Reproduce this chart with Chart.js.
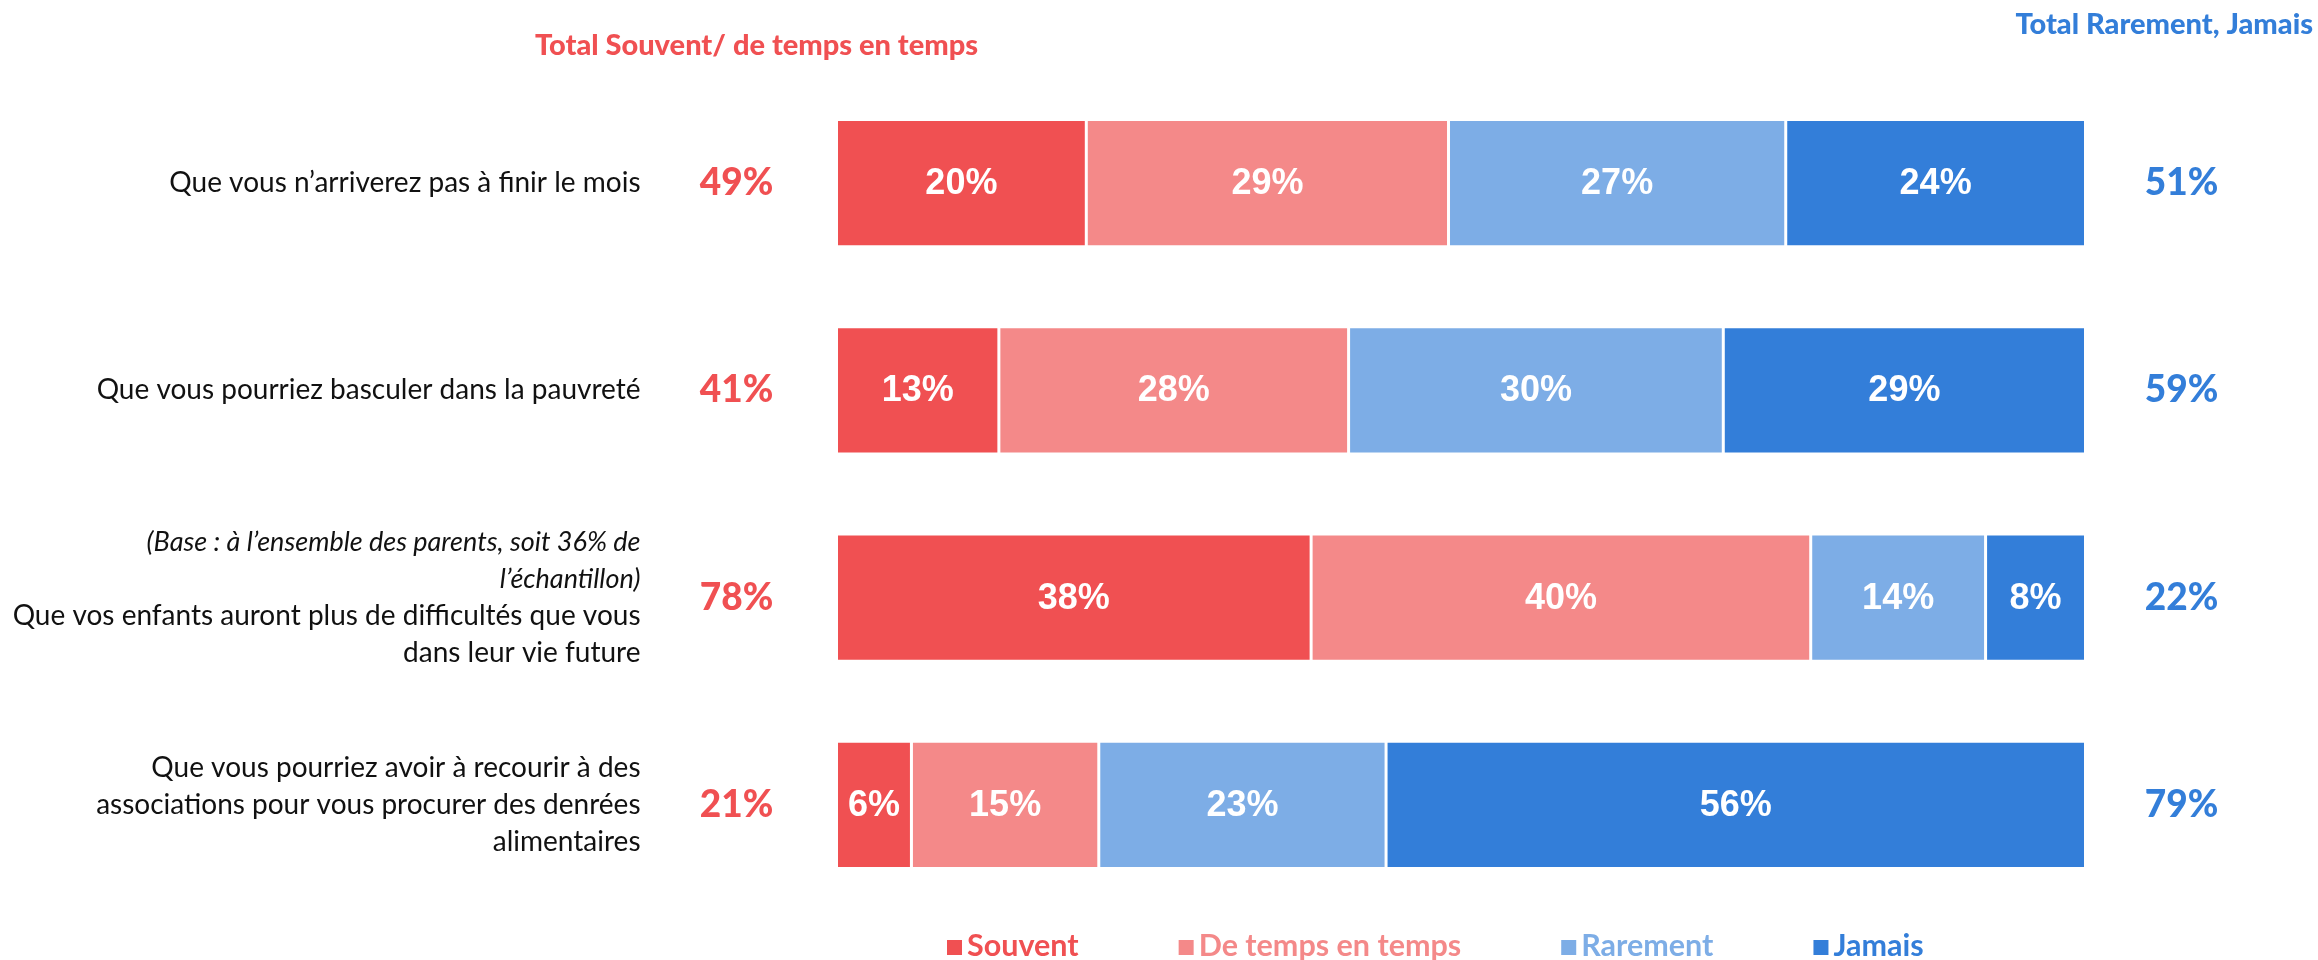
<!DOCTYPE html>
<html>
<head>
<meta charset="utf-8">
<script src="https://cdn.jsdelivr.net/npm/chart.js@4.4.0/dist/chart.umd.min.js"></script>
<style>
  html, body { margin: 0; padding: 0; background: #fff; }
  #wrap { width: 2318px; height: 960px; }
</style>
</head>
<body>
<div id="wrap"><canvas id="chart" width="2318" height="960"></canvas></div>
<script>
// Data
const categories = [
    ['Que vous n’arriverez pas à finir le mois'],
    ['Que vous pourriez basculer dans la pauvreté'],
    ['Que vos enfants auront plus de difficultés que vous', 'dans leur vie future'],
    ['Que vous pourriez avoir à recourir à des', 'associations pour vous procurer des denrées', 'alimentaires']
];
const notes = [
    [],
    [],
    ['(Base : à l’ensemble des parents, soit 36% de', 'l’échantillon)'],
    []
];
const seriesNames = ['Souvent', 'De temps en temps', 'Rarement', 'Jamais'];
const souvent = [20, 13, 38, 6];
const deTempsEnTemps = [29, 28, 40, 15];
const rarement = [27, 30, 14, 23];
const jamais = [24, 29, 8, 56];
const totalSouvent = [49, 41, 78, 21];
const totalRarement = [51, 59, 22, 79];

const RED = '#F05052';
const PINK = '#F48989';
const LIGHTBLUE = '#7DADE6';
const BLUE = '#337ED9';
const colors = [RED, PINK, LIGHTBLUE, BLUE];

const datasets = [souvent, deTempsEnTemps, rarement, jamais].map((values, i) => ({
    label: seriesNames[i],
    data: values,
    backgroundColor: colors[i],
    borderColor: '#ffffff',
    borderWidth: 1.5,
    borderSkipped: false,
    barPercentage: 0.615,
    categoryPercentage: 1
}));

// Texts around the bars: labels, totals, headers, legend
const textPlugin = {
    id: 'texts',
    afterDatasetsDraw(chart) {
        const { ctx } = chart;
        ctx.save();
        ctx.fillStyle = '#ffffff';
        ctx.font = 'bold 36px "Liberation Sans", Arial, sans-serif';
        ctx.textAlign = 'center';
        ctx.textBaseline = 'middle';
        chart.data.datasets.forEach((ds, i) => {
            const meta = chart.getDatasetMeta(i);
            meta.data.forEach((bar, j) => {
                const cx = (bar.x + bar.base) / 2;
                ctx.fillText(ds.data[j] + '%', cx, bar.y + 1);
            });
        });
        ctx.restore();
    },
    afterDraw(chart) {
        const { ctx, chartArea } = chart;
        const yScale = chart.scales.y;
        const lineH = 37;
        ctx.save();
        ctx.textBaseline = 'middle';

        categories.forEach((lines, i) => {
            const y = yScale.getPixelForValue(i);
            const all = notes[i].map(t => ({ t, italic: true })).concat(lines.map(t => ({ t, italic: false })));
            const y0 = y - (all.length - 1) * lineH / 2;
            ctx.textAlign = 'right';
            ctx.fillStyle = '#111111';
            all.forEach((ln, k) => {
                ctx.font = ln.italic ? 'italic 27px Lato, sans-serif' : '28px Lato, sans-serif';
                ctx.fillText(ln.t, chartArea.left - 196, y0 + k * lineH);
            });

            ctx.textAlign = 'center';
            ctx.font = '900 37px Lato, sans-serif';
            ctx.fillStyle = RED;
            ctx.fillText(totalSouvent[i] + '%', chartArea.left - 100, y);
            ctx.fillStyle = BLUE;
            ctx.fillText(totalRarement[i] + '%', chartArea.right + 96, y);
        });

        // headers
        ctx.font = '900 29px Lato, sans-serif';
        ctx.textAlign = 'center';
        ctx.fillStyle = RED;
        ctx.fillText('Total Souvent/ de temps en temps', chartArea.left - 80, 46);
        ctx.textAlign = 'right';
        ctx.fillStyle = BLUE;
        ctx.fillText('Total Rarement, Jamais', chart.width - 5, 25);

        // legend
        ctx.font = 'bold 30.5px Lato, sans-serif';
        ctx.textAlign = 'left';
        const legendY = chartArea.bottom + 38;
        const box = 15;
        const gap = 100;
        let x = 947;
        seriesNames.forEach((name, i) => {
            ctx.fillStyle = colors[i];
            ctx.fillRect(x, legendY - box / 2 + 1, box, box);
            ctx.fillText(name, x + box + 5, legendY);
            x += box + 5 + ctx.measureText(name).width + gap;
        });
        ctx.restore();
    }
};

function draw() {
    new Chart(document.getElementById('chart').getContext('2d'), {
        type: 'bar',
        data: {
            labels: categories.map(c => c.join(' ')),
            datasets: datasets
        },
        options: {
            indexAxis: 'y',
            responsive: false,
            animation: false,
            layout: {
                padding: { left: 836.5, right: 232.5, top: 79.5, bottom: 51.5 }
            },
            scales: {
                x: { stacked: true, min: 0, max: 100, display: false },
                y: { stacked: true, display: false }
            },
            plugins: {
                legend: { display: false },
                tooltip: { enabled: false }
            }
        },
        plugins: [textPlugin]
    });
}

Promise.all([
    document.fonts.load('28px Lato'),
    document.fonts.load('italic 27px Lato'),
    document.fonts.load('bold 28px Lato'),
    document.fonts.load('900 28px Lato'),
    document.fonts.load('bold 36px "Liberation Sans"')
]).then(draw, draw);
</script>
</body>
</html>
